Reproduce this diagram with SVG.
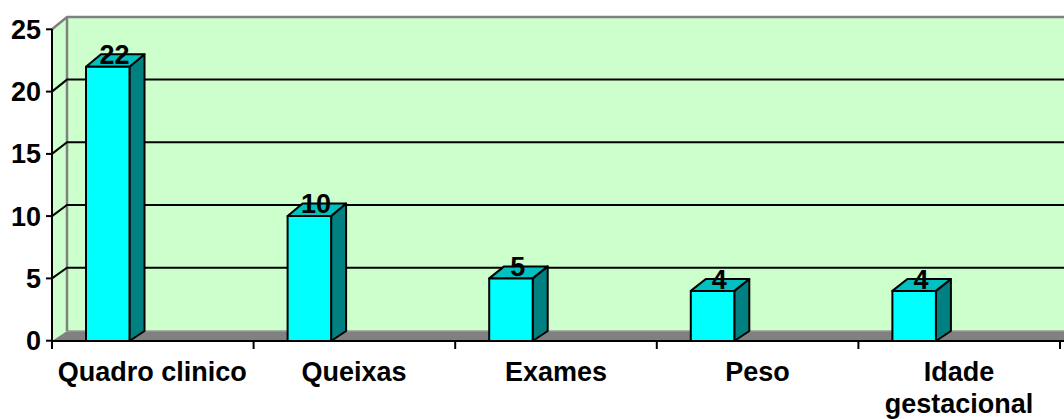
<svg xmlns="http://www.w3.org/2000/svg" width="1064" height="419" viewBox="0 0 1064 419">
<style>
.t{font-family:"Liberation Sans",Arial,sans-serif;font-weight:bold;font-size:27px;fill:#000}
.ax{text-anchor:end}
.c{text-anchor:middle}
.grid{stroke:#000;stroke-width:2;fill:none}
.wall{stroke:#808080;stroke-width:2.5;fill:none}
.front{fill:#00ffff;stroke:#000;stroke-width:2;stroke-linejoin:round}
.top{fill:#00c0c0;stroke:#000;stroke-width:2;stroke-linejoin:round}
.side{fill:#008080;stroke:#000;stroke-width:2;stroke-linejoin:round}
.tick{stroke:#000;stroke-width:2}
</style>
<rect width="1064" height="419" fill="#fff"/>
<g id="plot-area">
<polygon points="52,29.3 67,17 1064,17 1064,331 67,331 52,341" fill="#ccffcc"/>
<polygon points="52,341 67,331 1064,331 1064,341" fill="#808080"/>
<line x1="67" y1="331" x2="1064" y2="331" stroke="#999" stroke-width="1.5"/>
<polyline class="wall" points="52,29.3 67,17 1064,17"/>
<line class="wall" x1="67" y1="17" x2="67" y2="331"/>
</g>
<g id="gridlines">
<polyline class="grid" points="52,91.6 67,79.6 1064,79.6"/>
<polyline class="grid" points="52,153.9 67,142.3 1064,142.3"/>
<polyline class="grid" points="52,216.1 67,205 1064,205"/>
<polyline class="grid" points="52,278.4 67,267.8 1064,267.8"/>
</g>
<g id="axes">
<line class="tick" x1="52" y1="29" x2="52" y2="349"/>
<line class="tick" x1="52" y1="341" x2="1064" y2="341"/>
<g class="tick">
<line x1="46" y1="29.3" x2="52" y2="29.3"/>
<line x1="46" y1="91.6" x2="52" y2="91.6"/>
<line x1="46" y1="153.9" x2="52" y2="153.9"/>
<line x1="46" y1="216.1" x2="52" y2="216.1"/>
<line x1="46" y1="278.4" x2="52" y2="278.4"/>
<line x1="46" y1="340.7" x2="52" y2="340.7"/>
<line x1="253.6" y1="341" x2="253.6" y2="349"/>
<line x1="455.2" y1="341" x2="455.2" y2="349"/>
<line x1="656.8" y1="341" x2="656.8" y2="349"/>
<line x1="858.4" y1="341" x2="858.4" y2="349"/>
<line x1="1060" y1="341" x2="1060" y2="349"/>
</g>
<text class="t ax" x="41" y="38.8">25</text>
<text class="t ax" x="41" y="101.1">20</text>
<text class="t ax" x="41" y="163.4">15</text>
<text class="t ax" x="41" y="225.6">10</text>
<text class="t ax" x="41" y="287.9">5</text>
<text class="t ax" x="41" y="350">0</text>
</g>
<g id="bar-quadro">
<polygon class="side" points="129.5,66.7 144.5,54.2 144.5,331 129.5,341"/>
<polygon class="top" points="86,66.7 101,54.2 144.5,54.2 129.5,66.7"/>
<rect class="front" x="86" y="66.7" width="43.5" height="274.3"/>
<text class="t c" x="114.5" y="63.5">22</text>
<text class="t c" x="152.3" y="380.5">Quadro clinico</text>
</g>
<g id="bar-queixas">
<polygon class="side" points="331.1,216.1 346.1,203.6 346.1,331 331.1,341"/>
<polygon class="top" points="287.6,216.1 302.6,203.6 346.1,203.6 331.1,216.1"/>
<rect class="front" x="287.6" y="216.1" width="43.5" height="124.9"/>
<text class="t c" x="316.1" y="213">10</text>
<text class="t c" x="354" y="380.5">Queixas</text>
</g>
<g id="bar-exames">
<polygon class="side" points="532.7,278.4 547.7,266.4 547.7,331 532.7,341"/>
<polygon class="top" points="489.2,278.4 504.2,266.4 547.7,266.4 532.7,278.4"/>
<rect class="front" x="489.2" y="278.4" width="43.5" height="62.6"/>
<text class="t c" x="517.7" y="275.5">5</text>
<text class="t c" x="556" y="380.5">Exames</text>
</g>
<g id="bar-peso">
<polygon class="side" points="734.3,290.9 749.3,279 749.3,331 734.3,341"/>
<polygon class="top" points="690.8,290.9 705.8,279 749.3,279 734.3,290.9"/>
<rect class="front" x="690.8" y="290.9" width="43.5" height="50.1"/>
<text class="t c" x="719.3" y="288.5">4</text>
<text class="t c" x="757.6" y="380.5">Peso</text>
</g>
<g id="bar-idade">
<polygon class="side" points="935.9,290.9 950.9,279 950.9,331 935.9,341"/>
<polygon class="top" points="892.4,290.9 907.4,279 950.9,279 935.9,290.9"/>
<rect class="front" x="892.4" y="290.9" width="43.5" height="50.1"/>
<text class="t c" x="920.9" y="288.5">4</text>
<text class="t c" x="959" y="380.5">Idade</text>
<text class="t c" x="959" y="412.5">gestacional</text>
</g>
</svg>
